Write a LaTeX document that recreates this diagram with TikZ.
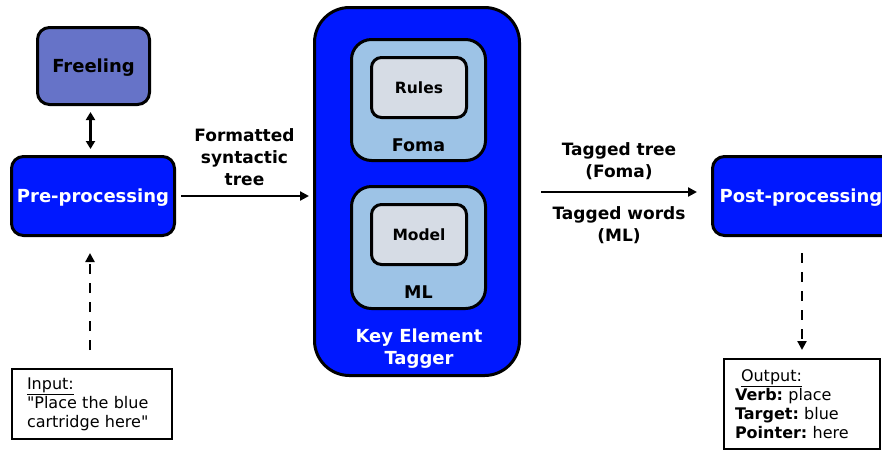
\documentclass[tikz,border=0pt]{standalone}
\usepackage{fontspec}
\setmainfont{DejaVu Sans}
% same face without TeX ligatures, so that " stays a straight quote
\newfontfamily\notefont{DejaVu Sans}
\usetikzlibrary{arrows.meta}

\definecolor{tagblue}{RGB}{0,24,255}
\definecolor{freelingfill}{RGB}{102,115,200}
\definecolor{innerblue}{RGB}{157,195,230}
\definecolor{leafgray}{RGB}{214,220,229}

\tikzset{
  box/.style={draw=black, line width=3pt, rounded corners=12pt, inner sep=0pt},
  bigfont/.style={font=\bfseries\fontsize{18}{22}\selectfont},
  bluebox/.style={box, fill=tagblue, text=white, bigfont, text depth=0pt},
  groupbox/.style={box, fill=innerblue, rounded corners=20pt},
  leafbox/.style={box, fill=leafgray, rounded corners=10pt, font=\bfseries\fontsize{15.5}{18}\selectfont},
  grouplabel/.style={font=\bfseries\fontsize{17.5}{21}\selectfont},
  edgelabel/.style={font=\bfseries\fontsize{17}{22}\selectfont, align=center, inner sep=0pt},
  notebox/.style={draw=black, line width=2pt, inner sep=0pt, align=left, font=\notefont\fontsize{16}{19}\selectfont},
  flow/.style={line width=2.5pt, -{Triangle[length=9pt,width=9pt]}},
  dflow/.style={flow, dash pattern=on 10pt off 9pt},
}

\begin{document}
\begin{tikzpicture}[x=1pt,y=-1pt]
\useasboundingbox (0,0) rectangle (882,451);

% processing stages
\node[box, fill=freelingfill, minimum width=112pt, minimum height=77pt, bigfont, text depth=0pt] (freeling) at (93.5,66) {Freeling};
\node[bluebox, minimum width=163pt, minimum height=79pt] (pre) at (93,196) {Pre-processing};
\node[bluebox, minimum width=187pt, minimum height=79pt] (post) at (806,196) {};
\node[text=white, bigfont, text depth=0pt] (posttext) at (801,196) {Post-processing};

% tagger with its two components
\node[box, fill=tagblue, rounded corners=35pt, minimum width=205pt, minimum height=368pt] (tagger) at (417,191.5) {};
\node[groupbox, minimum width=134pt, minimum height=121pt] (foma) at (418.5,100) {};
\node[leafbox, minimum width=95pt, minimum height=60pt] (rules) at (419,87.5) {Rules};
\node[grouplabel] (fomalabel) at (418.5,145) {Foma};
\node[groupbox, minimum width=134pt, minimum height=122pt] (ml) at (418.5,247.5) {};
\node[leafbox, minimum width=95pt, minimum height=60pt] (model) at (419,234.5) {Model};
\node[grouplabel] (mllabel) at (418.5,292) {ML};
\node[text=white, bigfont, align=center, inner sep=0pt] (taggerlabel) at (419,349) {Key Element\\Tagger};

% input and output notes
\node[notebox, minimum width=160pt, minimum height=70pt, text width=130pt] (input) at (92,404)
  {\underline{Input:}\\"Place the blue\\cartridge here"};
\node[notebox, minimum width=156pt, minimum height=90pt, text width=134pt] (output) at (802,404)
  {\mbox{}\kern6pt\underline{Output:}\\\textbf{Verb:}~place\\\textbf{Target:}~blue\\\textbf{Pointer:}~here};

% connectors
\draw[line width=2.5pt, {Triangle[length=8pt,width=9pt]}-{Triangle[length=8pt,width=9pt]}, shorten <=6pt, shorten >=6pt]
  ([xshift=-3pt]freeling.south) -- ([xshift=-3pt]freeling.south |- pre.north);
\draw[flow, shorten <=5pt, shorten >=4pt] (pre.east) -- (tagger.west |- pre.east)
  node[edgelabel, midway, above=9pt] (fmtlabel) {Formatted\\syntactic\\tree};
\coordinate (tagout) at (541,192);
\coordinate (postin) at (697,192);
\draw[flow] (tagout) -- (postin)
  node[edgelabel, midway, above=11pt] (treelabel) {Tagged tree\\(Foma)}
  node[edgelabel, midway, below=13pt] (wordslabel) {Tagged words\\(ML)};
\draw[dflow, shorten <=18pt, shorten >=16pt] ([xshift=-2pt]input.north) -- ([xshift=-2pt]input.north |- pre.south);
\draw[dflow, shorten <=16pt, shorten >=8pt] (output.north |- post.south) -- (output.north);
\end{tikzpicture}
\end{document}
